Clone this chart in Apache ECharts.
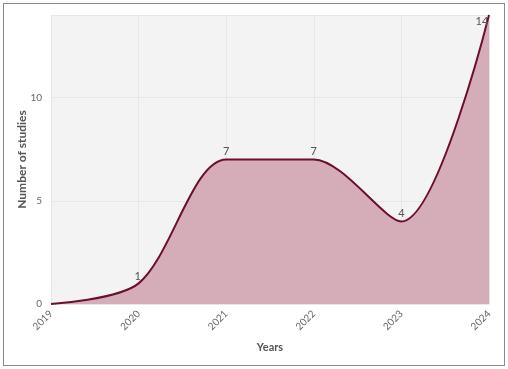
<!DOCTYPE html>
<html><head><meta charset="utf-8">
<script src="https://cdn.jsdelivr.net/npm/echarts@6/dist/echarts.min.js"></script>
<style>
html,body{margin:0;padding:0;background:#fff;}
#frame{position:absolute;left:3px;top:3px;width:500px;height:361px;border:1px solid #8a8a8a;box-sizing:content-box;}
#c{position:absolute;left:0;top:0;width:508px;height:369px;}
</style></head>
<body><div id="frame"></div><div id="c"></div>
<script>
const years = ['2019','2020','2021','2022','2023','2024'];
const studies = [0, 1, 7, 7, 4, 14];
const yTicks = [0, 5, 10];

const chart = echarts.init(document.getElementById('c'), null, {renderer:'canvas'});
chart.setOption({
  animation:false,
  backgroundColor:'transparent',
  grid:{left:51, right:19, top:15, bottom:65, show:true, backgroundColor:'#f3f3f3', borderWidth:0},
  xAxis:{
    type:'category', data:years, boundaryGap:false,
    name:'Years', nameLocation:'middle', nameGap:38, nameMoveOverlap:false,
    nameTextStyle:{fontFamily:'Lato', fontWeight:'bold', fontSize:11, color:'#555'},
    axisLine:{show:false}, axisTick:{show:false},
    axisLabel:{rotate:45, fontFamily:'Lato', fontSize:10, color:'#666', margin:8},
    splitLine:{show:true, lineStyle:{color:'#e7e7e7', width:1}}
  },
  yAxis:{
    type:'value', min:0, max:14, interval:5,
    name:'Number of studies', nameLocation:'middle', nameGap:23, nameMoveOverlap:false,
    nameTextStyle:{fontFamily:'Lato', fontWeight:'bold', fontSize:12, color:'#555'},
    axisLine:{show:false}, axisTick:{show:false},
    axisLabel:{fontFamily:'Lato', fontSize:10, color:'#666', margin:9,
      formatter:v=> yTicks.includes(v)? String(v):''},
    splitLine:{show:true, lineStyle:{color:'#e7e7e7', width:1}}
  },
  series:[{
    type:'line', data:studies.map((v,i)=>{
      const d={value:v};
      if(i===0) d.label={show:false};
      if(i===1) d.label={offset:[-1,1]};
      if(i===5) d.label={offset:[-7,14]};
      return d;
    }),
    smooth:0.3,
    symbol:'circle', symbolSize:1, showSymbol:true,
    itemStyle:{color:'rgba(0,0,0,0)', borderWidth:0},
    lineStyle:{color:'#6d0f2c', width:2},
    areaStyle:{color:'#d4adb8', opacity:1},
    label:{show:true, position:'top', distance:2, fontFamily:'Lato', fontSize:11, color:'#555'}
  }]
});
</script></body></html>
